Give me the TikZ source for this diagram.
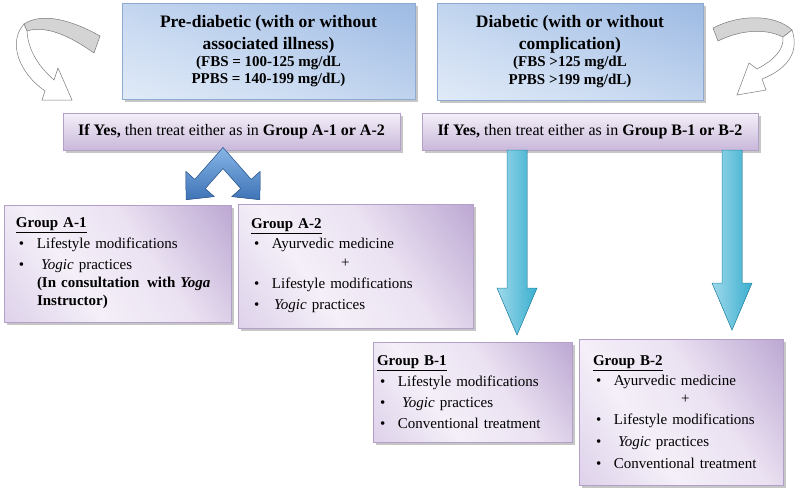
\documentclass[tikz,border=0pt]{standalone}
\usepackage{fontspec}
\setmainfont{Liberation Serif}
\usetikzlibrary{calc,shadows}
\definecolor{bluelight}{HTML}{F1F6FC}
\definecolor{bluemid}{HTML}{CCDCF2}
\definecolor{bluedark}{HTML}{89ACDD}
\definecolor{blueborder}{HTML}{8FAAD0}
\definecolor{grpL}{HTML}{CFBEE1}
\definecolor{grpC}{HTML}{F4EFF8}
\definecolor{grpC2}{HTML}{EBE2F2}
\definecolor{grpD}{HTML}{A287C1}
\definecolor{yesTop}{HTML}{F4F0F8}
\definecolor{yesBot}{HTML}{C9B8DB}
\definecolor{purpborder}{HTML}{B3A0C8}
\definecolor{cyanL}{HTML}{9ED8EA}
\definecolor{cyanD}{HTML}{3AAFCF}
\definecolor{cyanE}{HTML}{2A8FAE}
\definecolor{chevL}{HTML}{86B5E6}
\definecolor{chevD}{HTML}{3E73B6}
\definecolor{chevE}{HTML}{2F5C99}
\definecolor{curvegray}{HTML}{D4D4D4}
\definecolor{curveline}{HTML}{7A7A7A}
\pgfdeclarehorizontalshading{blueshade}{100bp}{color(0bp)=(bluelight); color(40bp)=(bluemid); color(100bp)=(bluedark)}
\pgfdeclarehorizontalshading{grpshade}{100bp}{color(0bp)=(grpL); color(38bp)=(grpC); color(58bp)=(grpC2); color(100bp)=(grpD)}
\newcommand{\bul}{\hspace*{3pt}\makebox[18pt][l]{\textbullet}}
\newcommand{\subl}{\fontsize{15}{19}\selectfont\bfseries}
\tikzset{
  boxshadow/.style={drop shadow={shadow xshift=3pt,shadow yshift=-3pt,fill=black!50,opacity=.45}},
  bluebox/.style={draw=blueborder,line width=0.6pt,shading=blueshade,shading angle=70,boxshadow,
    inner sep=0pt,outer sep=0pt,anchor=north west,align=center,font=\fontsize{17.5}{22}\selectfont\bfseries},
  yesbox/.style={draw=purpborder,line width=0.6pt,top color=yesTop,bottom color=yesBot,boxshadow,
    inner sep=0pt,outer sep=0pt,anchor=north west,align=center,font=\fontsize{16}{19}\selectfont},
  grpbox/.style={draw=purpborder,line width=0.6pt,shading=grpshade,shading angle=35,boxshadow,
    inner sep=0pt,outer sep=0pt,anchor=north west,align=left,font=\fontsize{15}{21}\selectfont},
  cyanarrow/.style={left color=cyanL,right color=cyanD,draw=cyanE,line width=0.5pt},
  chevarrow/.style={top color=chevL,bottom color=chevD,draw=chevE,line width=0.5pt},
  curveband/.style={fill=curvegray,draw=curveline,line width=0.5pt},
  curvewhite/.style={fill=white,draw=curveline,line width=0.5pt}
}
\begin{document}
\begin{tikzpicture}[x=1pt,y=-1pt]
\useasboundingbox (0,0) rectangle (798,491);

% top boxes
\node[bluebox,minimum width=293pt,minimum height=96pt] (pre) at (122,3)
 {Pre-diabetic (with or without\\
  associated illness)\\[-5pt]
  {\subl (FBS = 100-125 mg/dL}\\[-4.5pt]
  {\subl PPBS = 140-199 mg/dL)}};
\node[bluebox,minimum width=266pt,minimum height=97pt] (dia) at (437,3)
 {Diabetic (with or without\\
  complication)\\[-5pt]
  {\subl (FBS {>}125 mg/dL}\\[-4.5pt]
  {\subl PPBS {>}199 mg/dL)}};

% if yes boxes
\node[yesbox,minimum width=337pt,minimum height=37pt] (ayes) at (63,113)
 {\textbf{If Yes,} then treat either as in \textbf{Group A-1 or A-2}};
\node[yesbox,minimum width=336pt,minimum height=37pt] (byes) at (422,113)
 {\textbf{If Yes,} then treat either as in \textbf{Group B-1 or B-2}};

% group boxes
\node[grpbox,minimum width=227pt,minimum height=117pt,text width=203pt] (a1) at (4,205)
 {\underline{\textbf{Group A-1}}\\
  \bul Lifestyle modifications\\
  \bul\hspace*{4pt}\textit{Yogic} practices\\[-3pt]
  \hspace*{21pt}\textbf{(In consultation\, with \textit{Yoga}}\\[-3pt]
  \hspace*{21pt}\textbf{Instructor)}};
\node[grpbox,minimum width=235pt,minimum height=124pt,text width=209pt] (a2) at (238,204)
 {\underline{\textbf{Group A-2}}\\[-1pt]
  \bul Ayurvedic medicine\\[-2pt]
  \hspace*{90pt}+\\
  \bul Lifestyle modifications\\
  \bul\hspace*{2pt}\textit{Yogic} practices};
\node[grpbox,minimum width=199pt,minimum height=100pt,text width=191pt] (b1) at (373,342)
 {\underline{\textbf{Group B-1}}\\
  \bul Lifestyle modifications\\
  \bul\hspace*{4pt}\textit{Yogic} practices\\
  \bul Conventional treatment};
\node[grpbox,minimum width=204pt,minimum height=146pt,text width=176pt] (b2) at (579,339)
 {\underline{\textbf{Group B-2}}\\[-1pt]
  \bul Ayurvedic medicine\\[-3pt]
  \hspace*{88pt}+\\
  \bul Lifestyle modifications\\[1pt]
  \bul\hspace*{4pt}\textit{Yogic} practices\\[1pt]
  \bul Conventional treatment};

% cyan block arrows from byes to b1 / b2
\coordinate (b1s) at (517,0 |- byes.south);
\coordinate (b1e) at ($(517,0 |- b1.north)+(0,-7)$);
\coordinate (b2s) at (732,0 |- byes.south);
\coordinate (b2e) at ($(732,0 |- b2.north)+(0,-9)$);
\foreach \s/\e in {b1s/b1e,b2s/b2e}{
  \filldraw[cyanarrow] ($(\s)+(-10,0)$) -- ($(\e)+(-10,-47)$) -- ($(\e)+(-20,-47)$) -- (\e)
    -- ($(\e)+(20,-47)$) -- ($(\e)+(10,-47)$) -- ($(\s)+(10,0)$) -- cycle;
}

% blue chevron double arrow from ayes to a1 / a2
\coordinate (chev) at (223,0 |- ayes.south);
\filldraw[chevarrow] ($(chev)+(0,-2.5)$) -- ($(chev)+(-28.2,29.4)$) -- ($(chev)+(-37.2,21.4)$)
  -- ($(chev)+(-36.9,49.7)$) -- ($(chev)+(-8.8,46.6)$) -- ($(chev)+(-17.8,38.6)$)
  -- ($(chev)+(0,18.5)$) -- ($(chev)+(17.8,38.6)$) -- ($(chev)+(8.8,46.6)$)
  -- ($(chev)+(36.9,49.7)$) -- ($(chev)+(37.2,21.4)$) -- ($(chev)+(28.2,29.4)$) -- cycle;

% curved arrow, left
\filldraw[curveband] (100,36) .. controls (72,20) and (42,12) .. (24,24) -- (27,31)
  .. controls (46,25) and (70,36) .. (94,53) -- cycle;
\filldraw[curvewhite] (24,24) .. controls (8,42) and (18,72) .. (45,91) -- (42,100) -- (72,100)
  -- (58,68) -- (54,80) .. controls (36,64) and (28,48) .. (27,31) -- cycle;

% curved arrow, right
\filldraw[curveband] (713,28) .. controls (740,14) and (775,14) .. (792,30) -- (783,37)
  .. controls (765,28) and (740,30) .. (718,41) -- cycle;
\filldraw[curvewhite] (792,30) .. controls (799,50) and (790,68) .. (762,79) -- (766,90) -- (737,95)
  -- (749,63) -- (757,69) .. controls (774,60) and (784,50) .. (783,37) -- cycle;
\end{tikzpicture}
\end{document}
